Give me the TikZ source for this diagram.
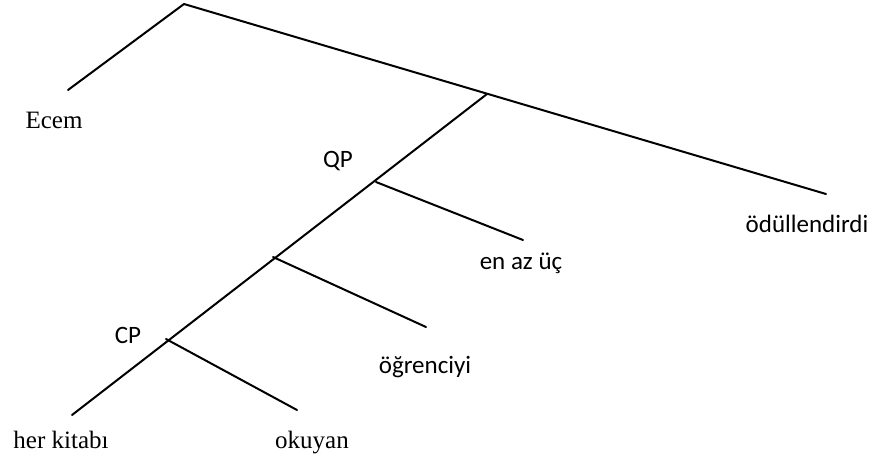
\documentclass[tikz,border=0pt]{standalone}
\usepackage{fontspec}
\setmainfont{Liberation Serif}
\newfontfamily\calfont{Carlito}
\begin{document}
\begin{tikzpicture}[x=1pt,y=-1pt,
  branch/.style={line width=2pt,line cap=round},
  serlabel/.style={font=\fontsize{25}{28}\selectfont,inner sep=0pt,anchor=base},
  sanslabel/.style={font=\calfont\fontsize{25}{28}\selectfont,inner sep=0pt,anchor=base}]
\useasboundingbox (0,0) rectangle (877,459);
% junctions and line ends
\coordinate (top) at (184,4);
\coordinate (ecemE) at (68,90);
\coordinate (odulE) at (826,194);
\coordinate (vp) at (487,94);
\coordinate (qp) at (376,182);
\coordinate (enE) at (523,240);
\coordinate (np) at (273,257);
\coordinate (ogrE) at (426,327);
\coordinate (cp) at (166,339);
\coordinate (herE) at (72,415);
\coordinate (okuE) at (297,410);
% labels
\node[serlabel] (ecem) at (54,128) {Ecem};
\node[sanslabel] (odul) at (807,232) {ödüllendirdi};
\node[sanslabel] (qplab) at (338,167) {QP};
\node[sanslabel] (enaz) at (521,269) {en az üç};
\node[sanslabel] (ogr) at (425,373) {öğrenciyi};
\node[sanslabel] (cplab) at (128,343) {CP};
\node[serlabel] (her) at (61,448) {her kitabı};
\node[serlabel] (oku) at (312,448) {okuyan};
% branches
\draw[branch] (ecemE) -- (top) -- (odulE);
\draw[branch] (vp) -- (herE);
\draw[branch] (qp) -- (enE);
\draw[branch] (np) -- (ogrE);
\draw[branch] (cp) -- (okuE);
\end{tikzpicture}
\end{document}
